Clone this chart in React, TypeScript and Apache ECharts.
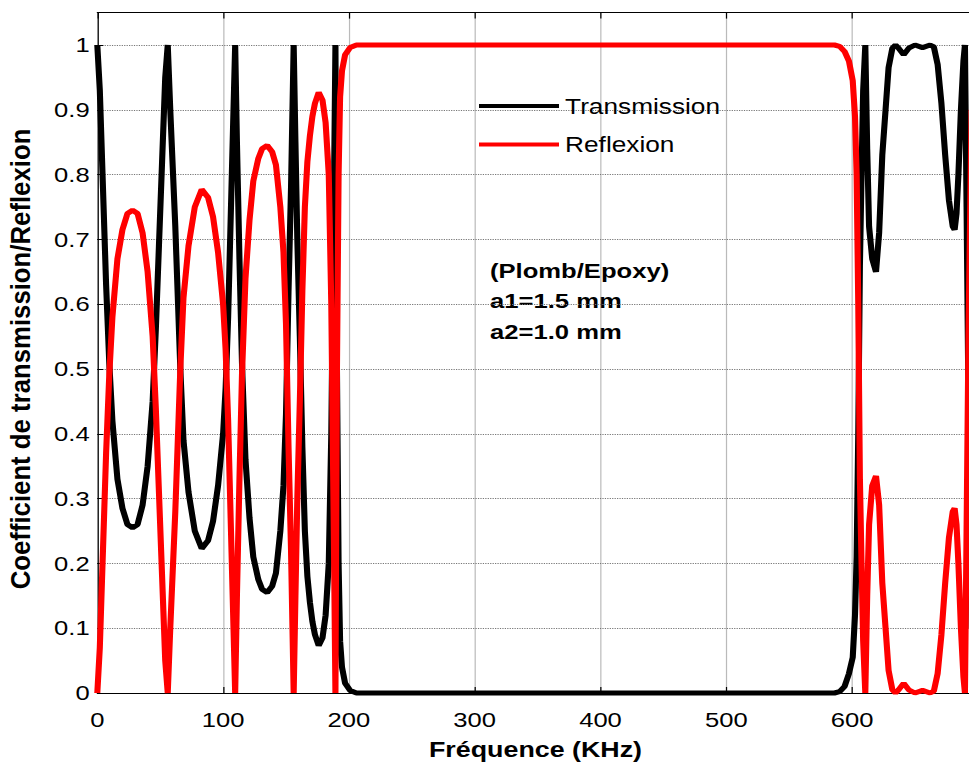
import React, { useEffect, useRef } from "react";
import * as echarts from "echarts";

// Frequencies (kHz) sampled along the curves
const freq = [
  0, 2, 4.5, 7, 9.5, 12, 16, 20, 24, 28, 32, 36, 40, 44, 46.5, 49, 51.5, 54, 56,
  58, 60, 62, 64, 66, 68.5, 72.5, 77.5, 83, 88, 92, 96, 100, 102, 104, 106, 108, 109.6,
  111, 113, 115, 117.8, 121, 124, 128, 131, 135, 139, 142, 145.5, 148, 150, 152, 154, 156.1,
  157.5, 159, 161, 163, 165, 167, 169, 171, 173, 176, 179, 181.5, 184, 186, 188, 189.3,
  190.5, 191.8, 193, 194.5, 197, 201, 206, 300, 400, 500, 586,
  590, 594, 597.5, 600.5, 602.3, 603.6, 604.9, 606.2, 607.5, 608.8, 610.5,
  612, 613.5, 616, 619, 621.5, 624, 626.6, 629, 632, 634.5,
  637, 641, 645, 650, 656, 662, 665, 668, 671, 674, 677, 680, 681.5, 683, 684.5, 686.5, 688.5, 689.7,
  691, 692.5, 695,
];

const transmission = [
  1, 0.93, 0.78, 0.63, 0.51, 0.42, 0.33, 0.285, 0.26, 0.255, 0.26, 0.29, 0.35, 0.45, 0.56, 0.69, 0.82, 0.95, 1,
  0.9, 0.81, 0.72, 0.61, 0.5, 0.39, 0.31, 0.25, 0.223, 0.235, 0.265, 0.32, 0.4, 0.47, 0.58, 0.73, 0.88, 1,
  0.85, 0.67, 0.51, 0.36, 0.27, 0.21, 0.175, 0.16, 0.155, 0.165, 0.185, 0.25, 0.32, 0.43, 0.62, 0.78, 1,
  0.85, 0.7, 0.55, 0.38, 0.25, 0.18, 0.14, 0.11, 0.09, 0.073, 0.085, 0.12, 0.2, 0.4, 0.75, 1,
  0.5, 0.2, 0.08, 0.04, 0.015, 0.004, 0, 0, 0, 0, 0,
  0.002, 0.01, 0.03, 0.055, 0.12, 0.21, 0.4, 0.66, 0.8, 0.93, 1,
  0.84, 0.72, 0.67, 0.65, 0.71, 0.83, 0.9, 0.965, 0.995, 1,
  0.995, 0.985, 0.995, 1, 0.996, 1, 0.997, 0.97, 0.91, 0.83, 0.76, 0.72, 0.715, 0.74, 0.8, 0.9, 0.975, 1,
  0.75, 0.45, 0.1,
];

const reflexion = [
  0, 0.07, 0.22, 0.37, 0.49, 0.58, 0.67, 0.715, 0.74, 0.745, 0.74, 0.71, 0.65, 0.55, 0.44, 0.31, 0.18, 0.05, 0,
  0.1, 0.19, 0.28, 0.39, 0.5, 0.61, 0.69, 0.75, 0.777, 0.765, 0.735, 0.68, 0.6, 0.53, 0.42, 0.27, 0.12, 0,
  0.15, 0.33, 0.49, 0.64, 0.73, 0.79, 0.825, 0.84, 0.845, 0.835, 0.815, 0.75, 0.68, 0.57, 0.38, 0.22, 0,
  0.15, 0.3, 0.45, 0.62, 0.75, 0.82, 0.86, 0.89, 0.91, 0.927, 0.915, 0.88, 0.8, 0.6, 0.25, 0,
  0.5, 0.8, 0.92, 0.96, 0.985, 0.996, 1, 1, 1, 1, 1,
  0.998, 0.99, 0.975, 0.945, 0.89, 0.8, 0.6, 0.33, 0.2, 0.08, 0,
  0.15, 0.26, 0.32, 0.335, 0.29, 0.17, 0.1, 0.035, 0.005, 0,
  0.005, 0.015, 0.005, 0, 0.004, 0, 0.003, 0.03, 0.09, 0.17, 0.24, 0.28, 0.285, 0.26, 0.2, 0.1, 0.025, 0,
  0.25, 0.55, 0.9,
];

const seriesNames = ["Transmission", "Reflexion"];
const annotations = ["(Plomb/Epoxy)", "a1=1.5 mm", "a2=1.0 mm"];
const xTitle = "Fréquence (KHz)";
const yTitle = "Coefficient de transmission/Reflexion";

const S = 1.22; // horizontal stretch of the original figure
const DW = 820; // design width of the chart (before stretch)
const d = (v: number) => v / S;
const FONT = "'Liberation Sans', Arial, Helvetica, sans-serif";
const GRID_COLOR = "#777777";

export default function App() {
  const ref = useRef<HTMLDivElement>(null);

  useEffect(() => {
    if (!ref.current) return;
    const chart = echarts.init(ref.current, null, { renderer: "svg" });
    const option: any = {
      animation: false,
      backgroundColor: "#ffffff",
      textStyle: { fontFamily: FONT },
      grid: {
        left: d(97.3),
        right: DW - d(977.9),
        top: 12.6,
        bottom: 71,
        containLabel: false,
      },
      legend: {
        show: true,
        orient: "vertical",
        left: d(479),
        top: 94,
        padding: 0,
        icon: "rect",
        itemWidth: d(80),
        itemHeight: 4,
        itemGap: 14.5,
        textStyle: { fontSize: 21.5, lineHeight: 24, color: "#000", fontFamily: FONT },
        data: seriesNames,
      },
      xAxis: [
        {
          type: "value",
          min: 0,
          max: 700,
          interval: 100,
          position: "bottom",
          axisLine: { show: true, onZero: false, lineStyle: { color: "#000", width: 1 } },
          axisTick: { show: true, inside: true, length: 6, lineStyle: { color: "#000" } },
          axisLabel: { color: "#000", fontSize: 21, margin: 16, showMaxLabel: false, fontFamily: FONT },
          splitLine: { show: true, lineStyle: { color: GRID_COLOR, type: "dotted", width: 1 } },
        },
        {
          type: "value",
          min: 0,
          max: 700,
          interval: 100,
          position: "top",
          axisLine: { show: true, onZero: false, lineStyle: { color: "#000", width: 1 } },
          axisTick: { show: true, inside: true, length: 6, lineStyle: { color: "#000" } },
          axisLabel: { show: false },
          splitLine: { show: false },
        },
      ],
      yAxis: {
        type: "value",
        min: 0,
        max: 1.05,
        interval: 0.1,
        axisLine: { show: true, onZero: false, lineStyle: { color: "#000", width: 1 } },
        axisTick: { show: true, inside: true, length: d(6), lineStyle: { color: "#000" } },
        axisLabel: {
          color: "#000",
          fontSize: 21,
          margin: d(7.6),
          fontFamily: FONT,
          formatter: (v: number) => (v > 1.001 ? "" : String(Math.round(v * 10) / 10)),
        },
        splitLine: { show: true, lineStyle: { color: GRID_COLOR, type: "dotted", width: 1 } },
      },
      graphic: [
        {
          type: "text",
          x: d(21),
          y: 359,
          rotation: Math.PI / 2,
          scaleX: 1.12,
          style: {
            text: yTitle,
            fontSize: 23,
            fontWeight: "bold",
            fontFamily: FONT,
            fill: "#000",
            align: "center",
            verticalAlign: "middle",
          },
        },
        {
          type: "text",
          x: d(535.5),
          y: 749,
          style: {
            text: xTitle,
            fontSize: 22,
            fontWeight: "bold",
            fontFamily: FONT,
            fill: "#000",
            align: "center",
            verticalAlign: "middle",
          },
        },
        ...annotations.map((t, i) => ({
          type: "text",
          x: d(490),
          y: [270.5, 300.5, 331.5][i],
          style: {
            text: t,
            fontSize: 21,
            fontWeight: "bold",
            fontFamily: FONT,
            fill: "#000",
            align: "left",
            verticalAlign: "middle",
          },
        })),
      ],
      series: [
        {
          name: seriesNames[0],
          type: "line",
          data: freq.map((f, i) => [f, transmission[i]]),
          symbol: "none",
          showSymbol: false,
          clip: false,
          lineStyle: { color: "#000000", width: 5 },
          itemStyle: { color: "#000000" },
        },
        {
          name: seriesNames[1],
          type: "line",
          data: freq.map((f, i) => [f, reflexion[i]]),
          symbol: "none",
          showSymbol: false,
          clip: false,
          lineStyle: { color: "#ff0000", width: 5 },
          itemStyle: { color: "#ff0000" },
        },
      ],
    };
    chart.setOption(option);
    return () => chart.dispose();
  }, []);

  return (
    <div
      style={{
        position: "absolute",
        left: 0,
        top: 0,
        width: 969,
        height: 764,
        overflow: "hidden",
        background: "#fff",
      }}
    >
      <div
        ref={ref}
        style={{ width: DW, height: 764, transform: `scaleX(${S})`, transformOrigin: "0 0" }}
      />
    </div>
  );
}
